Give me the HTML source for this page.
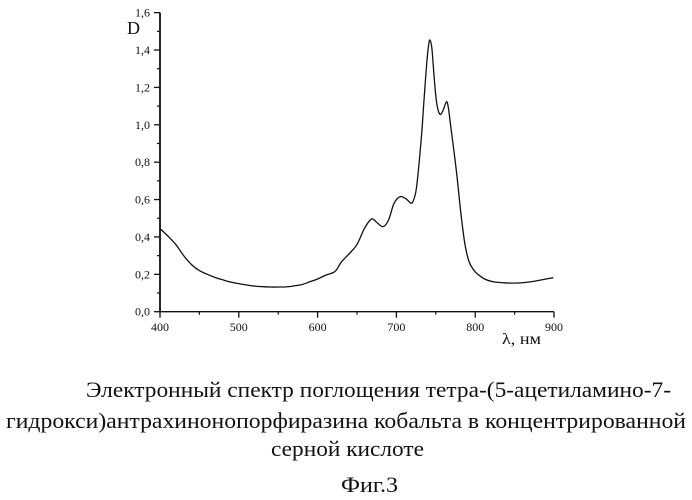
<!DOCTYPE html>
<html lang="ru">
<head>
<meta charset="utf-8">
<title>Электронный спектр поглощения</title>
<style>
html,body{margin:0;padding:0;background:#fff;}
svg{display:block;}
text{font-family:"Liberation Serif","DejaVu Serif",serif;fill:#111;}
</style>
</head>
<body>
<svg id="chart" width="692" height="500" viewBox="0 0 692 500" xmlns="http://www.w3.org/2000/svg">
  <g id="axes"></g>
  <path id="curve" fill="none" stroke="#111" stroke-width="1.3" stroke-linejoin="round"></path>
  <text x="127" y="34" font-size="18" textLength="13" lengthAdjust="spacingAndGlyphs">D</text>
  <text x="502" y="344" font-size="16" textLength="39" lengthAdjust="spacingAndGlyphs">λ, нм</text>
  <text x="86" y="397" font-size="22" textLength="585" lengthAdjust="spacingAndGlyphs">Электронный спектр поглощения тетра-(5-ацетиламино-7-</text>
  <text x="6" y="428" font-size="22" textLength="680" lengthAdjust="spacingAndGlyphs">гидрокси)антрахинонопорфиразина кобальта в концентрированной</text>
  <text x="271" y="456" font-size="22" textLength="153" lengthAdjust="spacingAndGlyphs">серной кислоте</text>
  <text x="341" y="492" font-size="22" textLength="57" lengthAdjust="spacingAndGlyphs">Фиг.3</text>
</svg>
<script>
const wavelengths = [400,410,420,430,440,450,460,470,480,490,500,510,520,530,540,550,560,570,580,590,600,610,622,630,640,650,660,668.6,675,683,690,697,704.6,712,718.6,722,725,728,732,735,738.5,741,742.6,745,748,751,755,759,763.5,766,769,773,777,782,787,792,797,802,812,823,835,848,860,875,899];
const absorbance = [0.445,0.405,0.36,0.3,0.252,0.22,0.2,0.183,0.17,0.158,0.15,0.143,0.137,0.134,0.132,0.132,0.133,0.138,0.145,0.16,0.175,0.195,0.215,0.265,0.31,0.36,0.45,0.496,0.478,0.455,0.49,0.58,0.615,0.605,0.58,0.6,0.65,0.76,0.95,1.13,1.33,1.43,1.453,1.41,1.25,1.12,1.057,1.075,1.123,1.09,0.99,0.86,0.72,0.52,0.36,0.27,0.23,0.205,0.175,0.16,0.155,0.153,0.155,0.163,0.182];
const xTickLabels = ["400","500","600","700","800","900"];
const yTickLabels = ["0,0","0,2","0,4","0,6","0,8","1,0","1,2","1,4","1,6"];
const xTickValues = [400,500,600,700,800,900];
const yTickValues = [0,0.2,0.4,0.6,0.8,1.0,1.2,1.4,1.6];

const NS = "http://www.w3.org/2000/svg";
function xScale(v){ return 160 + (v - 400) * 0.788; }
function yScale(v){ return 311.7 - v * 186.9; }

const axes = document.getElementById("axes");
function line(x1,y1,x2,y2,w,name){
  const el = document.createElementNS(NS,"line");
  el.setAttribute("x1",x1);
  el.setAttribute("y1",y1);
  el.setAttribute("x2",x2);
  el.setAttribute("y2",y2);
  el.setAttribute("stroke","#111");
  el.setAttribute("stroke-width",w);
  
  
  axes.appendChild(el);
}
function label(x,y,str,anchor,name){
  const el = document.createElementNS(NS,"text");
  el.setAttribute("x",x);
  el.setAttribute("y",y);
  el.setAttribute("font-size","12");
  el.setAttribute("text-anchor",anchor);
  el.textContent = str;
  
  
  axes.appendChild(el);
}
line(160,yScale(1.6),160,yScale(0)+0.5,1.8,"y-axis-line");
line(160,yScale(0),xScale(900),yScale(0),1.4,"x-axis-line");

yTickValues.forEach(function(v,i){
  const y = yScale(v);
  line(154,y,160,y,1.3,"y-major-tick");
  label(150,y+4,yTickLabels[i],"end","y-tick-label");
  if(i < yTickValues.length-1){
    const m = yScale((v + yTickValues[i+1]) / 2);
    line(157,m,160,m,1.2,"y-minor-tick");
  }
});
xTickValues.forEach(function(v,i){
  const x = xScale(v);
  line(x,yScale(0),x,yScale(0)+6,1.3,"x-major-tick");
  label(x,331,xTickLabels[i],"middle","x-tick-label");
  if(i < xTickValues.length-1){
    const m = xScale((v + xTickValues[i+1]) / 2);
    line(m,yScale(0),m,yScale(0)+3,1.2,"x-minor-tick");
  }
});

// Smooth curve through the data points (Catmull-Rom to Bezier)
const pts = wavelengths.map(function(w,i){ return [xScale(w), yScale(absorbance[i])]; });
let d = "M" + pts[0][0].toFixed(2) + " " + pts[0][1].toFixed(2);
for(let i = 0; i < pts.length-1; i++){
  const p0 = pts[Math.max(i-1,0)], p1 = pts[i], p2 = pts[i+1], p3 = pts[Math.min(i+2,pts.length-1)];
  const c1x = p1[0] + (p2[0]-p0[0])/6, c1y = p1[1] + (p2[1]-p0[1])/6;
  const c2x = p2[0] - (p3[0]-p1[0])/6, c2y = p2[1] - (p3[1]-p1[1])/6;
  d += "C" + c1x.toFixed(2) + " " + c1y.toFixed(2) + " " + c2x.toFixed(2) + " " + c2y.toFixed(2) + " " + p2[0].toFixed(2) + " " + p2[1].toFixed(2);
}
document.getElementById("curve").setAttribute("d", d);
</script>
</body>
</html>
